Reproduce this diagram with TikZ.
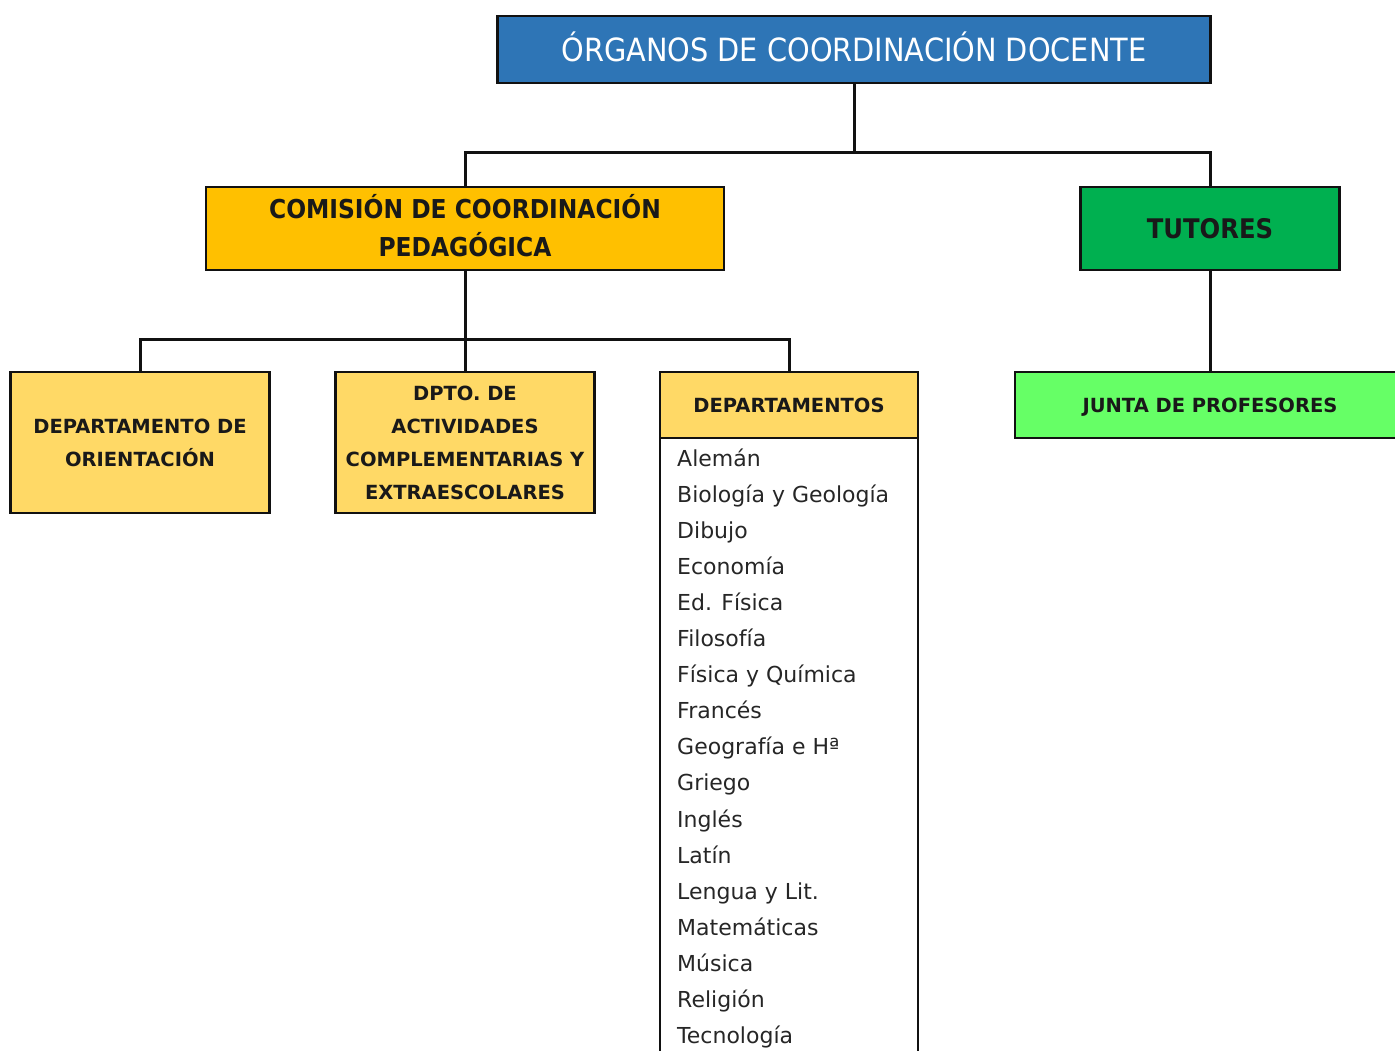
\documentclass[tikz,border=0pt]{standalone}
\usepackage{fontspec}
\setmainfont{DejaVu Sans Condensed}
\newfontfamily\widefont{DejaVu Sans}
\definecolor{tblue}{HTML}{2E75B6}
\definecolor{torange}{HTML}{FFC000}
\definecolor{tgreen}{HTML}{00B050}
\definecolor{tyellow}{HTML}{FFD966}
\definecolor{tlgreen}{HTML}{66FF66}
\definecolor{tline}{HTML}{111111}
\tikzset{
  box/.style={draw=tline, line width=2.6pt, inner sep=0pt, align=center, text=black!90},
  conn/.style={draw=tline, line width=3pt},
  small/.style={font=\widefont\fontsize{19.5}{33}\selectfont\bfseries},
  item/.style={anchor=base west, inner sep=0pt, font=\widefont\fontsize{22}{26}\selectfont, text=black!85},
}
\begin{document}
\begin{tikzpicture}[x=1pt,y=-1pt]
\useasboundingbox (0,0) rectangle (1395,1050);
\clip (0,0) rectangle (1395,1050);
\node[box, fill=tblue, text=white, minimum width=713pt, minimum height=67pt,
  font=\fontsize{32}{38}\selectfont, text height=23.4pt, text depth=0pt] (top) at (854,49.5) {ÓRGANOS DE COORDINACIÓN DOCENTE};
\node[box, fill=torange, minimum width=518pt, minimum height=83pt] (ccp) at (465,228.5) {};
\node[inner sep=0pt, align=center, text=black!90,
  font=\fontsize{26}{38}\selectfont\bfseries] (ccpt) at (465,225.5) {COMISIÓN DE COORDINACIÓN\\PEDAGÓGICA};
\node[box, fill=tgreen, minimum width=259pt, minimum height=83pt,
  font=\fontsize{27}{30}\selectfont\bfseries, text height=19.7pt, text depth=0pt] (tut) at (1210,228.5) {TUTORES};
\node[box, fill=tyellow, minimum width=259pt, minimum height=141pt, small] (orient) at (140,442.5) {DEPARTAMENTO DE\\ORIENTACIÓN};
\node[box, fill=tyellow, minimum width=259pt, minimum height=141pt, small] (dpto) at (465,442.5) {DPTO. DE\\ACTIVIDADES\\COMPLEMENTARIAS Y\\EXTRAESCOLARES};
\node[box, minimum width=258pt, minimum height=700pt] (list) at (789,722) {};
\node[box, fill=tyellow, minimum width=258pt, minimum height=66pt, small, text height=14.2pt, text depth=0pt] (deps) at (789,405) {DEPARTAMENTOS};
\node[box, fill=tlgreen, minimum width=400pt, minimum height=66pt] (junta) at (1215,405) {};
\node[small, inner sep=0pt, text=black!90, text height=14.2pt, text depth=0pt] (juntat) at (1210,405) {JUNTA DE PROFESORES};
% connectors
\coordinate (j1) at (854,152);
\coordinate (j2) at (465,339);
\draw[conn] (top.south) -- (j1);
\draw[conn] (j1) -| (ccp.north);
\draw[conn] (j1) -| (tut.north);
\draw[conn] (ccp.south) -- (j2);
\draw[conn] (j2) -| (orient.north);
\draw[conn] (j2) -- (dpto.north);
\draw[conn] (j2) -| (deps.north);
\draw[conn] (tut.south) -- (tut.south |- junta.north);
% list
\foreach \t [count=\i from 0] in {Alemán,Biología y Geología,Dibujo,Economía,Ed. Física,Filosofía,Física y Química,Francés,Geografía e Hª,Griego,Inglés,Latín,Lengua y Lit.,Matemáticas,Música,Religión,Tecnología}{
  \node[item] (it\i) at (677,{466+36.1*\i}) {\t};
}
\end{tikzpicture}
\end{document}
